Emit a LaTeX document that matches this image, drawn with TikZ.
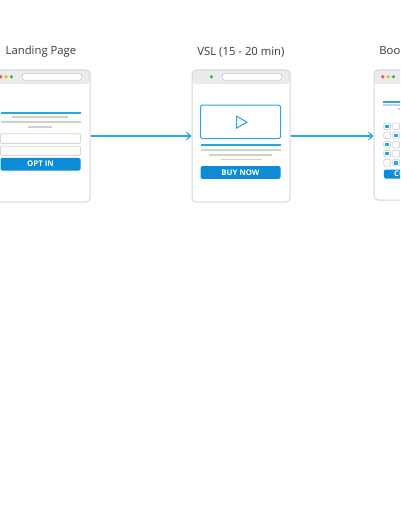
\documentclass[tikz,border=0pt]{standalone}
\usepackage{fontspec}
\setmainfont{Open Sans}
\usetikzlibrary{positioning,arrows.meta,calc}
\definecolor{flowblue}{HTML}{29A6E8}
\definecolor{btnblue}{HTML}{0C8CD7}
\definecolor{frame}{HTML}{D3D6DA}
\definecolor{barfill}{HTML}{E9EBED}
\definecolor{linegray}{HTML}{CDD0D5}
\definecolor{titlegray}{HTML}{3A3A3A}
\definecolor{dotred}{HTML}{F05A50}
\definecolor{dotorange}{HTML}{F6B232}
\definecolor{dotgreen}{HTML}{38C04A}
\tikzset{
    window/.style={rectangle, draw=frame, line width=1pt, rounded corners=4pt, fill=white, minimum width=98pt, minimum height=132pt, inner sep=0pt,
        path picture={\fill[barfill] (path picture bounding box.north west) rectangle ([yshift=-14pt]path picture bounding box.north east);}},
    title/.style={font=\fontsize{11.3}{13}\selectfont, text=titlegray, inner sep=0pt},
    addrbar/.style={draw=frame, fill=white, line width=0.8pt, rounded corners=1.5pt},
    field/.style={draw=frame, fill=white, line width=0.8pt, rounded corners=1.2pt},
    hline/.style={line width=1.8pt, color=linegray},
    bline/.style={line width=2pt, color=flowblue},
    button/.style={rectangle, fill=btnblue, rounded corners=1.5pt, inner sep=0pt, minimum width=80pt, minimum height=12.6pt, font=\fontsize{7.8}{9}\selectfont\bfseries, text=white},
    flow/.style={-{Stealth[length=6pt,width=10pt,inset=3.4pt]}, line width=2pt, color=flowblue}
}

\begin{document}
\begin{tikzpicture}[x=1pt, y=-1pt]
\useasboundingbox (0,0) rectangle (400,516);
\clip (0,0) rectangle (400,516);

% browser windows
\node[window] (landing) at (41,136) {};
\node[window] (vsl) at (241,136) {};
\node[window, minimum height=130pt] (booking) at (423,135) {};

\node[title, above=12pt of landing] (landingtitle) {Landing Page};
\node[title, above=12pt of vsl] (vsltitle) {VSL (15 - 20 min)};
\node[title, above=12pt of booking, xshift=3pt] (bookingtitle) {Booking Calendar};

% landing page
\begin{scope}[shift={(landing.north west)}]
\fill[dotred] (9.3,7.3) circle (1.9pt);
\fill[dotorange] (14.6,7.3) circle (1.9pt);
\fill[dotgreen] (20,7.3) circle (1.9pt);
\draw[addrbar] (31,4) rectangle (90,10.7);
\draw[bline] (9,44) -- (89,44);
\draw[hline] (20.7,47.9) -- (76.3,47.9);
\draw[hline] (9,52.7) -- (89,52.7);
\draw[hline] (36.3,57.7) -- (60.3,57.7);
\draw[field] (9,64.3) rectangle (89,74);
\draw[field] (9,76.7) rectangle (89,86);
\node[button] (optbtn) at (49,94.7) {OPT IN};
\end{scope}

% video sales letter
\begin{scope}[shift={(vsl.north west)}]
\fill[dotgreen] (20,7.3) circle (1.9pt);
\draw[addrbar] (31,4) rectangle (90,10.7);
\draw[flowblue, line width=1pt, rounded corners=1.5pt] (9,35.7) rectangle (89,69);
\draw[flowblue, line width=1pt] (45,46.7) -- (45,58.7) -- (55.5,52.7) -- cycle;
\draw[bline] (9,75.7) -- (89,75.7);
\draw[hline] (9,80.7) -- (89,80.7);
\draw[hline] (17,85.2) -- (80,85.2);
\draw[hline] (29,90) -- (70,90);
\node[button] (buybtn) at (49,103) {BUY NOW};
\end{scope}

% booking calendar
\begin{scope}[shift={(booking.north west)}]
\fill[dotred] (9.3,7.3) circle (1.9pt);
\fill[dotorange] (14.6,7.3) circle (1.9pt);
\fill[dotgreen] (20,7.3) circle (1.9pt);
\draw[addrbar] (31,4) rectangle (90,10.7);
\draw[bline] (9,32.3) -- (89,32.3);
\draw[hline] (9,35.8) -- (89,35.8);
\draw[hline] (24,39.2) -- (74,39.2);
\foreach \r/\c in {0/1,1/2,2/1,3/1,4/2} {
    \pgfmathsetmacro\yy{56.7+9.15*\r}
    \pgfmathsetmacro\xx{10.3+9*(\c-1)}
    \draw[field] (10.3,\yy-3.3) rectangle ++(6.7,6.7);
    \draw[field] (19.3,\yy-3.3) rectangle ++(6.7,6.7);
    \fill[flowblue] (\xx+1.6,\yy-1.7) rectangle ++(3.5,3.5);
}
\node[button, minimum width=78.7pt, minimum height=9pt] (callbtn) at (49.65,104.5) {CONFIRM CALL};
\end{scope}

% funnel steps
\draw[flow] (landing.east) -- (vsl.west);
\draw[flow] (vsl.east) -- (vsl.east -| booking.west);
\end{tikzpicture}
\end{document}
